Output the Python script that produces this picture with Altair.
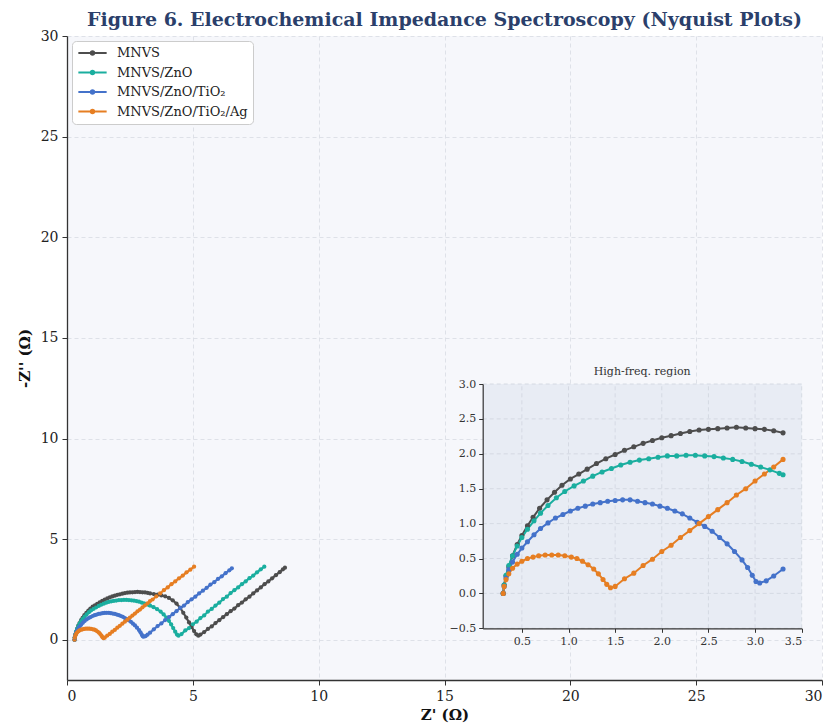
import altair as alt
import pandas as pd

series_names = ["MNVS", "MNVS/ZnO", "MNVS/ZnO/TiO₂", "MNVS/ZnO/TiO₂/Ag"]
series_colors = ["#4d4d4d", "#1aae9f", "#4472ca", "#e67e22"]

# (Z', -Z'') pairs
mnvs = [(0.30,0.00),(0.31,0.12),(0.33,0.25),(0.36,0.38),(0.40,0.54),(0.45,0.70),(0.50,0.83),(0.56,0.97),
        (0.62,1.09),(0.69,1.22),(0.77,1.34),(0.85,1.45),(0.93,1.55),(1.02,1.64),(1.11,1.71),(1.20,1.78),
        (1.30,1.86),(1.40,1.93),(1.50,1.99),(1.60,2.05),(1.70,2.10),(1.80,2.15),(1.90,2.19),(2.00,2.23),
        (2.10,2.26),(2.20,2.29),(2.30,2.32),(2.40,2.34),(2.50,2.35),(2.60,2.36),(2.70,2.37),(2.80,2.38),
        (2.90,2.37),(3.00,2.36),(3.10,2.35),(3.20,2.33),(3.30,2.30),
        (3.45,2.27),(3.60,2.24),(3.75,2.20),(3.90,2.16),(4.05,2.08),(4.20,1.96),(4.35,1.80),(4.50,1.58),
        (4.62,1.34),(4.74,1.10),(4.85,0.86),(4.95,0.64),(5.05,0.43),(5.14,0.27),(5.22,0.20),
        (5.30,0.26),(5.45,0.38),(5.60,0.54),(5.75,0.66),(5.90,0.83),(6.05,0.97),(6.20,1.12),(6.35,1.27),
        (6.50,1.42),(6.65,1.55),(6.80,1.72),(6.95,1.85),(7.10,2.01),(7.25,2.14),(7.40,2.30),(7.55,2.45),
        (7.70,2.60),(7.85,2.76),(8.00,2.90),(8.15,3.05),(8.30,3.21),(8.45,3.36),(8.58,3.50),(8.66,3.58)]

mnvs_zno = [(0.30,0.00),(0.31,0.12),(0.33,0.26),(0.36,0.40),(0.40,0.54),(0.45,0.68),(0.50,0.80),(0.56,0.92),
            (0.63,1.04),(0.70,1.15),(0.78,1.26),(0.87,1.37),(0.96,1.46),(1.06,1.54),(1.16,1.61),(1.26,1.68),
            (1.36,1.74),(1.46,1.79),(1.56,1.84),(1.66,1.88),(1.76,1.91),(1.86,1.93),(1.96,1.95),(2.06,1.97),
            (2.16,1.97),(2.26,1.98),(2.36,1.98),(2.46,1.97),(2.56,1.96),(2.66,1.94),(2.76,1.92),(2.86,1.89),
            (2.96,1.85),(3.06,1.81),(3.16,1.77),(3.26,1.72),(3.30,1.70),
            (3.44,1.62),(3.58,1.52),(3.72,1.40),(3.84,1.26),(3.95,1.10),(4.05,0.94),(4.14,0.76),(4.22,0.58),
            (4.30,0.40),(4.37,0.26),(4.43,0.20),
            (4.55,0.28),(4.70,0.46),(4.85,0.58),(5.00,0.77),(5.15,0.90),(5.30,1.08),(5.45,1.21),(5.60,1.40),
            (5.75,1.53),(5.90,1.70),(6.05,1.84),(6.20,2.02),(6.35,2.14),(6.50,2.32),(6.65,2.46),(6.80,2.60),
            (6.95,2.76),(7.10,2.90),(7.25,3.06),(7.40,3.19),(7.55,3.35),(7.70,3.50),(7.84,3.63)]

mnvs_zno_tio2 = [(0.30,0.00),(0.31,0.10),(0.33,0.22),(0.36,0.34),(0.40,0.45),(0.45,0.56),(0.50,0.65),(0.56,0.74),
                 (0.63,0.84),(0.70,0.93),(0.78,1.01),(0.86,1.08),(0.94,1.13),(1.02,1.18),(1.10,1.22),(1.18,1.25),
                 (1.26,1.28),(1.34,1.30),(1.42,1.32),(1.50,1.33),(1.58,1.34),(1.66,1.34),(1.74,1.32),(1.82,1.30),
                 (1.90,1.28),(1.98,1.25),(2.06,1.22),(2.14,1.18),(2.22,1.14),(2.30,1.08),(2.38,1.02),(2.46,0.96),
                 (2.54,0.89),(2.62,0.80),(2.70,0.71),(2.78,0.60),(2.86,0.48),(2.92,0.37),(2.97,0.26),(3.01,0.17),
                 (3.05,0.15),(3.12,0.18),(3.20,0.25),(3.30,0.35),
                 (3.45,0.52),(3.60,0.68),(3.75,0.81),(3.90,0.98),(4.05,1.12),(4.20,1.27),(4.35,1.42),(4.50,1.58),
                 (4.65,1.70),(4.80,1.87),(4.95,2.01),(5.10,2.14),(5.25,2.30),(5.40,2.44),(5.55,2.58),(5.70,2.74),
                 (5.85,2.86),(6.00,3.02),(6.15,3.15),(6.30,3.31),(6.45,3.45),(6.55,3.55)]

mnvs_zno_tio2_ag = [(0.30,0.00),(0.31,0.10),(0.33,0.20),(0.36,0.28),(0.40,0.36),(0.45,0.42),(0.50,0.46),(0.56,0.50),
                    (0.62,0.52),(0.68,0.54),(0.75,0.55),(0.82,0.55),(0.89,0.55),(0.96,0.54),(1.03,0.52),(1.09,0.50),
                    (1.15,0.46),(1.21,0.41),(1.27,0.35),(1.32,0.28),(1.37,0.20),(1.41,0.13),(1.45,0.08),(1.50,0.10),
                    (1.60,0.21),(1.70,0.29),(1.80,0.40),(1.90,0.49),(2.00,0.60),(2.10,0.69),(2.20,0.80),(2.30,0.90),
                    (2.40,1.00),(2.50,1.10),(2.60,1.20),(2.70,1.30),(2.80,1.41),(2.90,1.50),(3.00,1.61),(3.10,1.71),
                    (3.20,1.81),(3.30,1.92),
                    (3.40,2.00),(3.55,2.16),(3.70,2.30),(3.85,2.46),(4.00,2.60),(4.15,2.76),(4.30,2.90),(4.45,3.05),
                    (4.60,3.19),(4.75,3.35),(4.90,3.48),(5.05,3.63)]

main_x_ticks = [0, 5, 10, 15, 20, 25, 30]
main_y_ticks = [0, 5, 10, 15, 20, 25, 30]
inset_x_ticks = [0.5, 1.0, 1.5, 2.0, 2.5, 3.0, 3.5]
inset_y_ticks = [-0.5, 0.0, 0.5, 1.0, 1.5, 2.0, 2.5, 3.0]
inset_x_domain = [0.08, 3.5]
inset_y_domain = [-0.5, 3.0]
inset_cut = 3.3

rows = []
for name, pts in zip(series_names, [mnvs, mnvs_zno, mnvs_zno_tio2, mnvs_zno_tio2_ag]):
    for i, (zr, zi) in enumerate(pts):
        rows.append({"series": name, "zr": zr, "zi": zi, "idx": i})
df = pd.DataFrame(rows)
df_in = df[df["zr"] <= inset_cut + 1e-6]

W, H = 755, 644
FONT = "DejaVu Serif"
# inset placement inside the plot area (pixels)
IX0, IX1 = 415.7, 734.7
IY0, IY1 = 592.3, 348.0

legend_path = "M-1,0H1M-0.13,0A0.13,0.13,0,1,1,0.13,0A0.13,0.13,0,1,1,-0.13,0"
color_enc = alt.Color(
    "series:N",
    scale=alt.Scale(domain=series_names, range=series_colors),
    legend=alt.Legend(
        title=None, orient="top-left", offset=5, padding=5, fillColor="white",
        strokeColor="#cccccc", cornerRadius=4, labelFont=FONT, labelFontSize=13,
        labelColor="#222222", symbolType=legend_path, symbolSize=800,
        symbolStrokeWidth=2, labelOffset=9, rowPadding=5.5, clipHeight=14,
    ),
)

main_axis_common = dict(
    domainColor="#333333", domainWidth=1.3, tickColor="#333333", tickSize=5,
    labelFont=FONT, labelFontSize=14, labelColor="#222222",
    titleFont=FONT, titleFontSize=15, titleFontWeight="bold", titleColor="#111111",
    grid=True, gridColor="#d8dbe3", gridDash=[4, 3], gridWidth=0.8,
)
x_main = alt.X("zr:Q", scale=alt.Scale(domain=[0, 30], nice=False, zero=False),
               axis=alt.Axis(values=main_x_ticks, title="Z' (Ω)", labelPadding=4,
                             titlePadding=4, **main_axis_common))
y_main = alt.Y("zi:Q", scale=alt.Scale(domain=[-2, 30], nice=False, zero=False),
               axis=alt.Axis(values=main_y_ticks, title="-Z'' (Ω)", labelPadding=4,
                             titlePadding=8, **main_axis_common))

main = alt.Chart(df).mark_line(
    strokeWidth=2.2, point=alt.OverlayMarkDef(filled=True, size=18, opacity=1)
).encode(x=x_main, y=y_main, color=color_enc, order="idx:Q")

inset_axis_common = dict(
    domainColor="#333333", domainWidth=1.2, tickColor="#333333", tickSize=4,
    labelFont=FONT, labelFontSize=11, labelColor="#333333", grid=False,
    title=None, format=".1f", zindex=1, labelPadding=3,
)
x_in = alt.X("zr:Q", scale=alt.Scale(domain=inset_x_domain, range=[IX0, IX1], nice=False, zero=False),
             axis=alt.Axis(orient="bottom", offset=-(H - IY0), values=inset_x_ticks, **inset_axis_common))
y_in = alt.Y("zi:Q", scale=alt.Scale(domain=inset_y_domain, range=[IY0, IY1], nice=False, zero=False),
             axis=alt.Axis(orient="left", offset=-IX0, values=inset_y_ticks, **inset_axis_common))

bg_df = pd.DataFrame({"zr": [inset_x_domain[0]], "zr2": [inset_x_domain[1]],
                      "zi": [inset_y_domain[0]], "zi2": [inset_y_domain[1]]})
inset_bg = alt.Chart(bg_df).mark_rect(color="#e8ecf4").encode(
    x=x_in, x2="zr2:Q", y=y_in, y2="zi2:Q")

vgrid_df = pd.DataFrame({"zr": inset_x_ticks, "zi": inset_y_domain[0], "zi2": inset_y_domain[1]})
vgrid = alt.Chart(vgrid_df).mark_rule(color="#cfd4de", strokeDash=[4, 3], strokeWidth=0.8).encode(
    x=x_in, y=y_in, y2="zi2:Q")
hgrid_df = pd.DataFrame({"zi": inset_y_ticks, "zr": inset_x_domain[0], "zr2": inset_x_domain[1]})
hgrid = alt.Chart(hgrid_df).mark_rule(color="#cfd4de", strokeDash=[4, 3], strokeWidth=0.8).encode(
    y=y_in, x=x_in, x2="zr2:Q")

inset_lines = alt.Chart(df_in).mark_line(
    strokeWidth=2.0, point=alt.OverlayMarkDef(filled=True, size=26, opacity=1)
).encode(x=x_in, y=y_in, color=color_enc, order="idx:Q")

title_df = pd.DataFrame({"zr": [sum(inset_x_domain) / 2], "zi": [3.17], "label": ["High-freq. region"]})
inset_title = alt.Chart(title_df).mark_text(font=FONT, fontSize=11, color="#333333", baseline="middle").encode(
    x=x_in, y=y_in, text="label:N")

inset = alt.layer(inset_bg, vgrid, hgrid, inset_lines, inset_title)

chart = alt.layer(main, inset).resolve_scale(x="independent", y="independent").properties(
    width=W, height=H,
    autosize=alt.AutoSizeParams(type="none"),
    padding={"left": 59, "top": 28, "right": 3, "bottom": 46},
    background="white",
    title=alt.TitleParams(
        "Figure 6. Electrochemical Impedance Spectroscopy (Nyquist Plots)",
        font=FONT, fontSize=19, fontWeight="bold", color="#2b3f6b", anchor="middle",
        offset=-1, frame="group",
    ),
).configure_view(fill="#f6f7fb", strokeWidth=0)

chart.save("out.html", embed_options={"renderer": "svg", "actions": False})
